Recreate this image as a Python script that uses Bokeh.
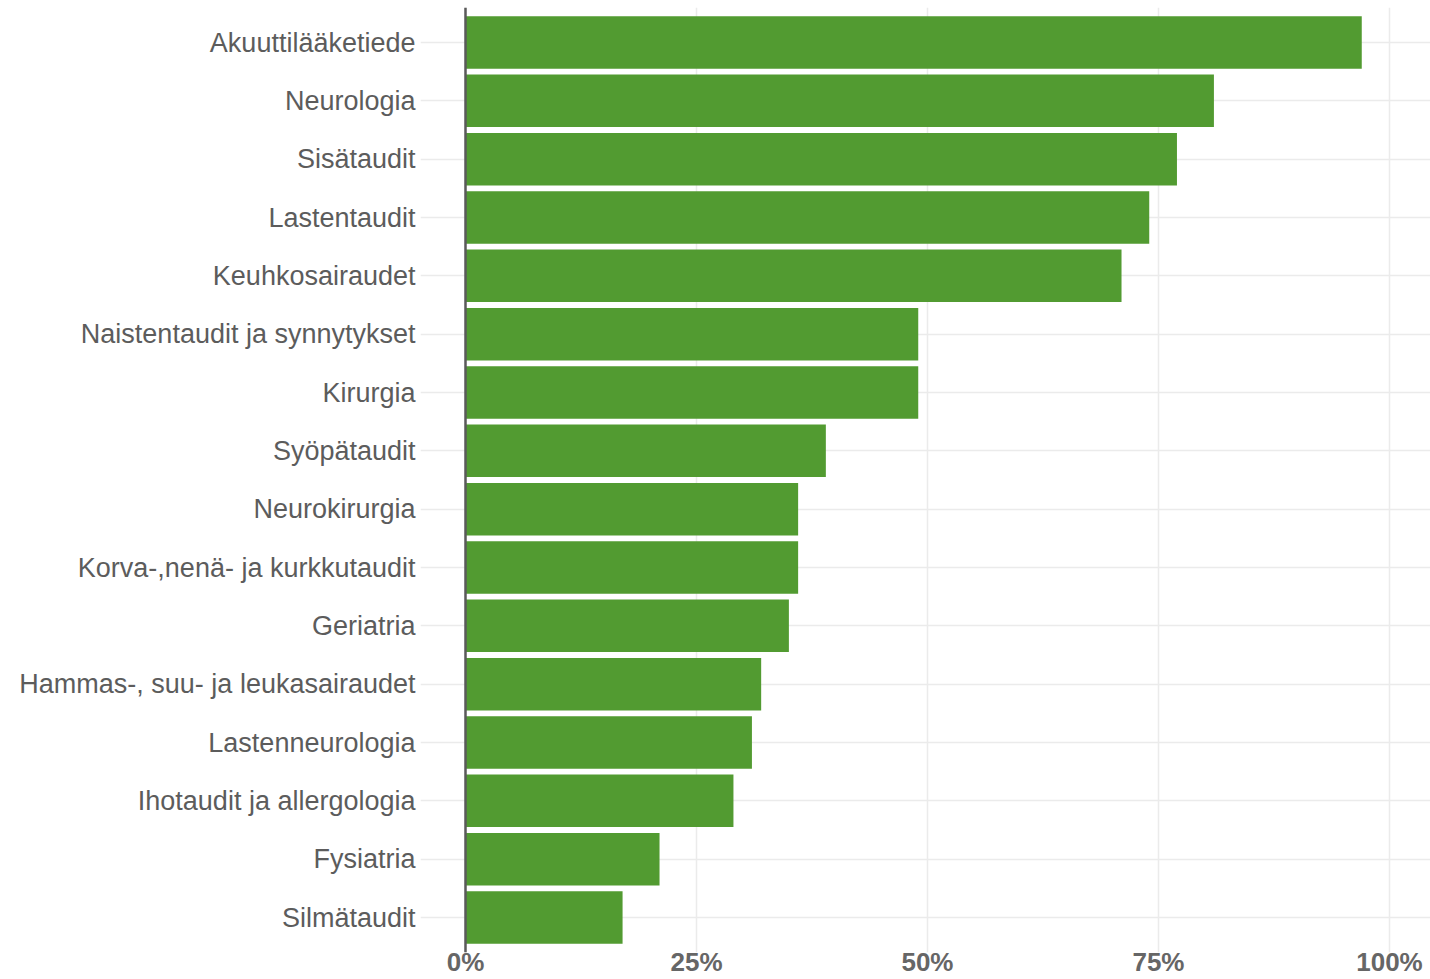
from bokeh.plotting import figure
from bokeh.models import Range1d, FixedTicker, Span
from bokeh.embed import file_html
from bokeh.resources import INLINE

categories = [
    "Akuuttilääketiede", "Neurologia", "Sisätaudit", "Lastentaudit",
    "Keuhkosairaudet", "Naistentaudit ja synnytykset", "Kirurgia",
    "Syöpätaudit", "Neurokirurgia", "Korva-,nenä- ja kurkkutaudit",
    "Geriatria", "Hammas-, suu- ja leukasairaudet", "Lastenneurologia",
    "Ihotaudit ja allergologia", "Fysiatria", "Silmätaudit",
]
values = [97, 81, 77, 74, 71, 49, 49, 39, 36, 36, 35, 32, 31, 29, 21, 17]
x_ticks = [0, 25, 50, 75, 100]
x_tick_labels = ["0%", "25%", "50%", "75%", "100%"]

n = len(categories)
ypos = [n - 1 - i for i in range(n)]

p = figure(
    width=1430, height=979, output_backend="svg", toolbar_location=None,
    x_range=Range1d(-4.87, 104.44), y_range=Range1d(-0.6, n - 0.4),
    min_border_left=420, min_border_right=0, min_border_top=7, min_border_bottom=0,
)
p.outline_line_color = None
p.background_fill_color = "white"
p.border_fill_color = "white"

p.hbar(y=ypos, right=values, left=0, height=0.9, fill_color="#529b31", line_color=None)

p.add_layout(Span(location=0, dimension="height", line_color="#5a5a5a", line_width=2.5))

# x axis
p.xaxis.ticker = FixedTicker(ticks=x_ticks)
p.xaxis.major_label_overrides = {t: l for t, l in zip(x_ticks, x_tick_labels)}
p.xaxis.axis_line_color = None
p.xaxis.major_tick_line_color = None
p.xaxis.minor_tick_line_color = None
p.xaxis.major_tick_out = 0
p.xaxis.major_tick_in = 0
p.xaxis.major_label_text_font = "Liberation Sans"
p.xaxis.major_label_text_font_style = "bold"
p.xaxis.major_label_text_font_size = "26px"
p.xaxis.major_label_text_color = "#666666"
p.xaxis.major_label_standoff = -6

# y axis
p.yaxis.ticker = FixedTicker(ticks=ypos)
p.yaxis.major_label_overrides = {y: c for y, c in zip(ypos, categories)}
p.yaxis.axis_line_color = None
p.yaxis.major_tick_line_color = None
p.yaxis.minor_tick_line_color = None
p.yaxis.major_tick_out = 0
p.yaxis.major_tick_in = 0
p.yaxis.major_label_text_font = "Liberation Sans"
p.yaxis.major_label_text_font_size = "27px"
p.yaxis.major_label_text_color = "#5c5c5c"
p.yaxis.major_label_standoff = 5

p.xgrid.grid_line_color = "#ebebeb"
p.xgrid.grid_line_width = 1.5
p.ygrid.grid_line_color = "#ebebeb"
p.ygrid.grid_line_width = 1.5

open("out.html", "w").write(file_html(p, INLINE))
